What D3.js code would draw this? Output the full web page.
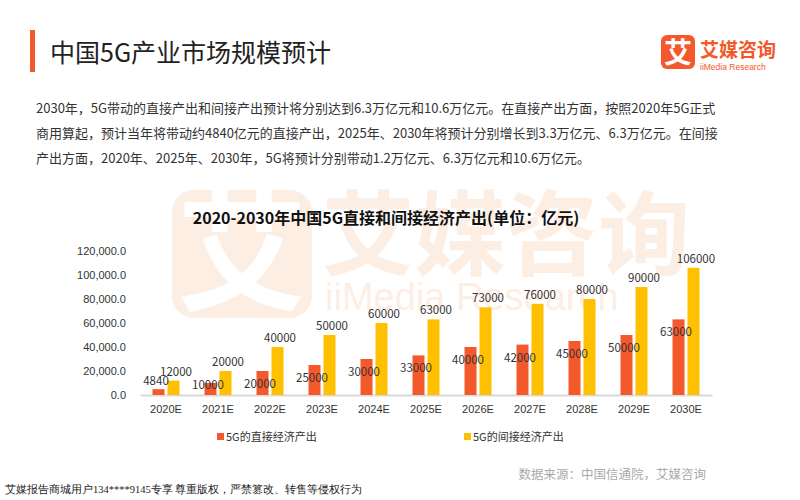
<!DOCTYPE html>
<meta charset="utf-8">
<script src="https://d3js.org/d3.v7.min.js"></script>
<style>
body { margin: 0; background: #fff; }
svg { font-family: "Noto Sans CJK SC", "Noto Sans", sans-serif; }
</style>
<svg width="800" height="500"></svg>
<script>

var years = ["2020E","2021E","2022E","2023E","2024E","2025E","2026E","2027E","2028E","2029E","2030E"];
var direct = [4840,10000,20000,25000,30000,33000,40000,42000,45000,50000,63000];
var indirect = [12000,20000,40000,50000,60000,63000,73000,76000,80000,90000,106000];
var yTicks = [0,20000,40000,60000,80000,100000,120000];
var seriesNames = ["5G的直接经济产出","5G的间接经济产出"];
var colors = ["#f4592b","#ffc000"];

var svg = d3.select("svg");

// watermark
var wm = svg.append("g").attr("opacity", 0.12);
wm.append("rect").attr("x", 172).attr("y", 190).attr("width", 140).attr("height", 128).attr("rx", 22).attr("fill", "#f4792b");
wm.append("text").attr("x", 242).attr("y", 300).attr("text-anchor", "middle").attr("font-size", 130).attr("font-weight", "bold").attr("fill", "#fff").text("艾");
wm.append("text").attr("x", 322).attr("y", 268).attr("font-size", 92).attr("font-weight", "bold").attr("fill", "#f4792b").text("艾媒咨询");
wm.append("text").attr("x", 325).attr("y", 310).attr("font-size", 38).attr("fill", "#f4792b").attr("font-family", "Liberation Sans, Arial").text("iiMedia Research");

// header
svg.append("rect").attr("x", 30).attr("y", 30).attr("width", 5).attr("height", 42).attr("fill", "#f4592b");
svg.append("text").attr("x", 50).attr("y", 62).attr("font-size", 25).attr("fill", "#222").text("中国5G产业市场规模预计");

// logo
svg.append("rect").attr("x", 661).attr("y", 35).attr("width", 34).attr("height", 34).attr("rx", 6).attr("fill", "#f4592b");
svg.append("text").attr("x", 678).attr("y", 63).attr("text-anchor", "middle").attr("font-size", 28).attr("font-weight", "bold").attr("fill", "#fff").text("艾");
svg.append("text").attr("x", 700).attr("y", 57).attr("font-size", 19).attr("font-weight", "bold").attr("fill", "#f4592b").text("艾媒咨询");
svg.append("text").attr("x", 700).attr("y", 70).attr("font-size", 8.5).attr("fill", "#f4592b").attr("font-family", "Liberation Sans, Arial").text("iiMedia Research");

var para = [
  "2030年，5G带动的直接产出和间接产出预计将分别达到6.3万亿元和10.6万亿元。在直接产出方面，按照2020年5G正式",
  "商用算起，预计当年将带动约4840亿元的直接产出，2025年、2030年将预计分别增长到3.3万亿元、6.3万亿元。在间接",
  "产出方面，2020年、2025年、2030年，5G将预计分别带动1.2万亿元、6.3万亿元和10.6万亿元。"
];
svg.append("g").selectAll("text").data(para).join("text")
  .attr("x", 36).attr("y", (d, i) => 113 + i * 25)
  .attr("font-size", 13).attr("fill", "#333").text(d => d);

svg.append("text").attr("x", 386).attr("y", 224).attr("text-anchor", "middle")
  .attr("font-size", 16).attr("font-weight", "bold").attr("fill", "#111")
  .text("2020-2030年中国5G直接和间接经济产出(单位：亿元)");

// chart
var x = d3.scaleBand().domain(years).range([140, 712]);
var y = d3.scaleLinear().domain([0, 120000]).range([395, 251]);

svg.append("g").attr("transform", "translate(0,395)")
  .call(d3.axisBottom(x).tickSize(0).tickPadding(10))
  .call(g => g.select(".domain").attr("stroke", "#d9d9d9").attr("stroke-width", 2))
  .call(g => g.selectAll("text").attr("font-size", 11).attr("fill", "#333"));

svg.append("g").attr("transform", "translate(140,0)")
  .call(d3.axisLeft(y).tickValues(yTicks).tickSize(0).tickPadding(14).tickFormat(d3.format(",.1f")))
  .call(g => g.select(".domain").remove())
  .call(g => g.selectAll("text").attr("font-size", 11).attr("fill", "#333"));

var bw = 12;
svg.append("g").selectAll("rect").data(direct).join("rect")
  .attr("x", (d, i) => x(years[i]) + x.bandwidth() / 2 - bw - 1.5)
  .attr("y", d => y(d)).attr("width", bw).attr("height", d => 395 - y(d)).attr("fill", colors[0]);
svg.append("g").selectAll("rect").data(indirect).join("rect")
  .attr("x", (d, i) => x(years[i]) + x.bandwidth() / 2 + 1.5)
  .attr("y", d => y(d)).attr("width", bw).attr("height", d => 395 - y(d)).attr("fill", colors[1]);

svg.append("g").selectAll("text").data(direct).join("text")
  .attr("x", (d, i) => x(years[i]) + x.bandwidth() / 2 - bw / 2 - 4)
  .attr("y", d => d < 8000 ? y(d) - 4 : Math.min(y(d) + 17, 389))
  .attr("text-anchor", "middle").attr("font-size", 11.5).attr("fill", "#333").text(d => d);
svg.append("g").selectAll("text").data(indirect).join("text")
  .attr("x", (d, i) => x(years[i]) + x.bandwidth() / 2 + bw / 2 + 4)
  .attr("y", d => y(d) - 5)
  .attr("text-anchor", "middle").attr("font-size", 11.5).attr("fill", "#333").text(d => d);

// legend
var lg = svg.append("g").selectAll("g").data(seriesNames).join("g")
  .attr("transform", (d, i) => "translate(" + (217 + i * 247) + ",441)");
lg.append("rect").attr("y", -8).attr("width", 7).attr("height", 7).attr("fill", (d, i) => colors[i]);
lg.append("text").attr("x", 9).attr("y", 0).attr("font-size", 11).attr("fill", "#333").text(d => d);

svg.append("text").attr("x", 706).attr("y", 479).attr("text-anchor", "end").attr("font-size", 12.5).attr("fill", "#aaa").text("数据来源：中国信通院，艾媒咨询");
svg.append("text").attr("x", 5).attr("y", 493).attr("font-size", 10.5).attr("fill", "#222").attr("font-family", "serif").text("艾媒报告商城用户134****9145专享 尊重版权，严禁篡改、转售等侵权行为");
</script>
